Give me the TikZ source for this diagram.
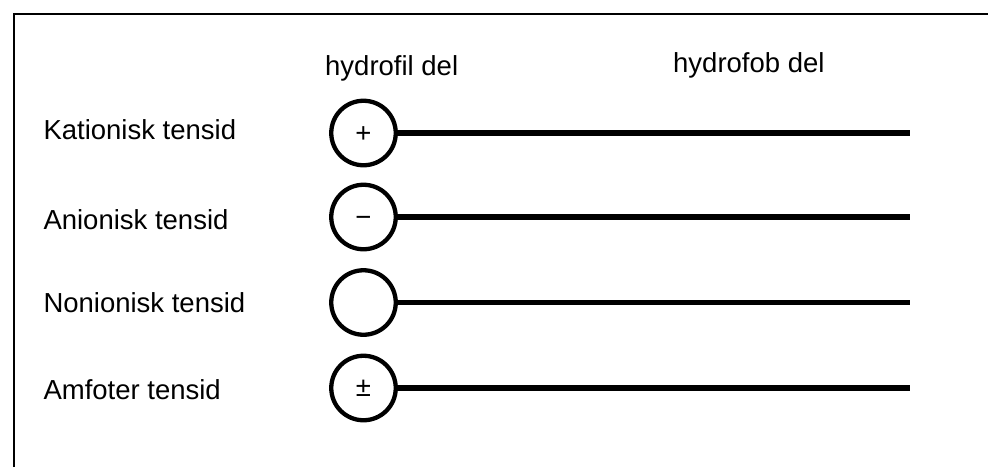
\documentclass[tikz,border=0pt]{standalone}
\usepackage{fontspec}
\setmainfont{Liberation Sans}
\begin{document}
\begin{tikzpicture}[x=1pt,y=-1pt,
  lbl/.style={anchor=base west,inner sep=0pt,font=\fontsize{27.5}{33}\selectfont},
  head/.style={circle,draw,line width=4.3pt,minimum size=64.5pt,inner sep=0pt},
  sym/.style={anchor=base,inner sep=0pt,font=\fontsize{27.5}{33}\selectfont},
  tail/.style={line width=5.5pt}]
\useasboundingbox (0,0) rectangle (988,467);
\draw[line width=2pt] (13.8,467) -- (13.8,13.8) -- (988,13.8);
\node[lbl] (th1) at (325,75) {hydrofil del};
\node[lbl] (th2) at (673,72.7) {hydrofob del};
\node[lbl] (l1) at (43.3,139.3) {Kationisk tensid};
\node[lbl] (l2) at (43.3,229) {Anionisk tensid};
\node[lbl] (l3) at (43.3,312.3) {Nonionisk tensid};
\node[lbl] (l4) at (43.3,399.3) {Amfoter tensid};
\node[head] (c1) at (363.5,133) {};
\node[head] (c2) at (363.5,217) {};
\node[head] (c3) at (363.5,302.5) {};
\node[head] (c4) at (363.5,388) {};
\node[sym] (s1) at (363.5,142) {+};
\node[sym] (s2) at (363.5,226.5) {−};
\node[sym] (s4) at (363.5,396) {±};
\coordinate (e1) at (910,133);
\coordinate (e2) at (910,217);
\coordinate (e3) at (910,302.5);
\coordinate (e4) at (910,388);
\draw[tail] (c1.east) -- (e1);
\draw[tail] (c2.east) -- (e2);
\draw[tail] (c3.east) -- (e3);
\draw[tail] (c4.east) -- (e4);
\end{tikzpicture}
\end{document}
